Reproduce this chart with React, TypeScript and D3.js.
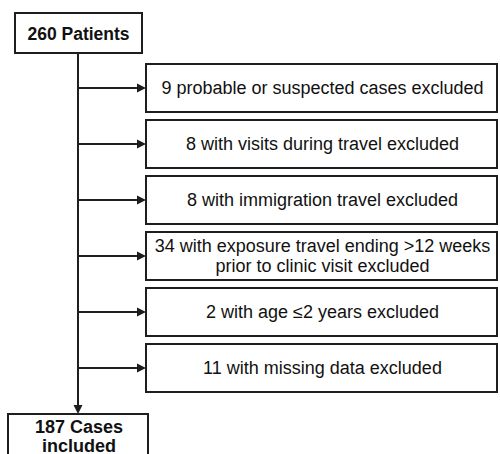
import React from "react";
import * as d3 from "d3";

const startLabel = ["260 Patients"];
const endLabel = ["187 Cases", "included"];
const exclusionLabels: string[][] = [
  ["9 probable or suspected cases excluded"],
  ["8 with visits during travel excluded"],
  ["8 with immigration travel excluded"],
  ["34 with exposure travel ending >12 weeks", "prior to clinic visit excluded"],
  ["2 with age \u22642 years excluded"],
  ["11 with missing data excluded"],
];

const W = 500;
const H = 454;
const FONT = "'Liberation Sans', Arial, Helvetica, sans-serif";
const STROKE = "#1e1e1e";

export default function App() {
  const y = d3
    .scaleBand<number>()
    .domain(d3.range(exclusionLabels.length))
    .range([64, 392])
    .paddingInner(0.143)
    .paddingOuter(0);

  const spineX = 78;
  const boxX0 = 146;
  const boxX1 = 497;
  const topBox = { x: 15, y: 13, w: 127, h: 40 };
  const botBox = { x: 8, y: 414, w: 140, h: 48 };

  const arrowPath = (tipX: number, tipY: number, dir: "right" | "down") => {
    const L = 9;
    const hw = 4.5;
    const p = d3.path();
    if (dir === "right") {
      p.moveTo(tipX, tipY);
      p.lineTo(tipX - L, tipY - hw);
      p.lineTo(tipX - L, tipY + hw);
    } else {
      p.moveTo(tipX, tipY);
      p.lineTo(tipX - hw, tipY - L);
      p.lineTo(tipX + hw, tipY - L);
    }
    p.closePath();
    return p.toString();
  };

  return (
    <svg width={W} height={H} style={{ position: "absolute", left: 0, top: 0, background: "#fff" }}>
      <rect x={0} y={0} width={W} height={H} fill="#fff" />
      {/* top box */}
      <rect x={topBox.x} y={topBox.y} width={topBox.w} height={topBox.h} fill="#fff" stroke={STROKE} strokeWidth={2} />
      <text
        x={topBox.x + topBox.w / 2}
        y={topBox.y + topBox.h / 2 + 1}
        textAnchor="middle"
        dominantBaseline="central"
        fontFamily={FONT}
        fontWeight="bold"
        fontSize={17.5}
        fill="#111"
      >
        {startLabel[0]}
      </text>
      {/* spine */}
      <line x1={spineX} y1={topBox.y + topBox.h} x2={spineX} y2={botBox.y - 8} stroke={STROKE} strokeWidth={2} />
      <path d={arrowPath(spineX, botBox.y, "down")} fill={STROKE} />
      {exclusionLabels.map((lines, i) => {
        const y0 = y(i)!;
        const bh = y.bandwidth();
        const cy = y0 + bh / 2;
        const lh = 20.5;
        return (
          <g key={i}>
            <line x1={spineX} y1={cy} x2={boxX0 - 8} y2={cy} stroke={STROKE} strokeWidth={2} />
            <path d={arrowPath(boxX0, cy, "right")} fill={STROKE} />
            <rect x={boxX0} y={y0} width={boxX1 - boxX0} height={bh} fill="#fff" stroke={STROKE} strokeWidth={2} />
            {lines.map((t, j) => (
              <text
                key={j}
                x={(boxX0 + boxX1) / 2 + 1}
                y={cy + (j - (lines.length - 1) / 2) * lh}
                textAnchor="middle"
                dominantBaseline="central"
                fontFamily={FONT}
                fontSize={18}
                fill="#111"
              >
                {t}
              </text>
            ))}
          </g>
        );
      })}
      {/* bottom box */}
      <rect x={botBox.x} y={botBox.y} width={botBox.w} height={botBox.h} fill="#fff" stroke={STROKE} strokeWidth={2} />
      {endLabel.map((t, j) => (
        <text
          key={j}
          x={botBox.x + botBox.w / 2 + 1}
          y={botBox.y + 13 + j * 19}
          textAnchor="middle"
          dominantBaseline="central"
          fontFamily={FONT}
          fontWeight="bold"
          fontSize={18}
          fill="#111"
        >
          {t}
        </text>
      ))}
    </svg>
  );
}
